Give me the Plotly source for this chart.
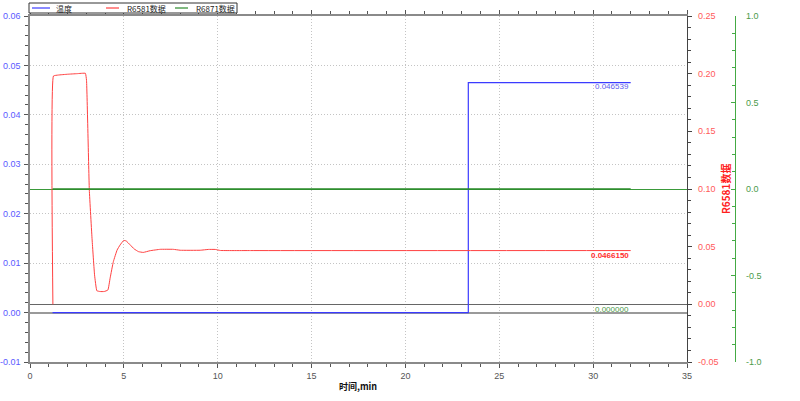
import plotly.graph_objects as go

# ---- data ----
temp_t = [1.2, 23.35, 32.0]
temp_v = [0.0, 0.046539, 0.046539]

r6581_t = [1.22, 1.25, 1.5, 2.0, 2.5, 2.95, 3.01, 3.16, 3.31, 3.44, 3.56, 3.73, 3.95, 4.15,
           4.27, 4.44, 4.64, 4.80, 4.99, 5.12, 5.34, 5.55, 5.78, 6.03, 6.40, 6.94, 7.63,
           8.0, 9.07, 9.5, 9.87, 10.14, 11.74, 32.0]
r6581_v = [0.0, 0.198, 0.1988, 0.1995, 0.2, 0.2003, 0.1945, 0.0991, 0.0558, 0.0254, 0.0118,
           0.0111, 0.0111, 0.0124, 0.0229, 0.037, 0.0471, 0.0515, 0.0554, 0.055, 0.0515,
           0.048, 0.0457, 0.045, 0.0465, 0.0477, 0.0477, 0.0469, 0.0469, 0.0476, 0.0476,
           0.0467, 0.046615, 0.046615]

r6871_t = [1.2, 32.0]
r6871_v = [0.0, 0.0]

temp_label = "0.046539"
r6581_label = "0.0466150"
r6871_label = "0.000000"

y1_ticks = [-0.01, 0.0, 0.01, 0.02, 0.03, 0.04, 0.05, 0.06]
y1_text = ["-0.01", "0.00", "0.01", "0.02", "0.03", "0.04", "0.05", "0.06"]
y2_ticks = [-0.05, 0.0, 0.05, 0.10, 0.15, 0.20, 0.25]
y2_text = ["-0.05", "0.00", "0.05", "0.10", "0.15", "0.20", "0.25"]
y3_ticks = [-1.0, -0.5, 0.0, 0.5, 1.0]
y3_text = ["-1.0", "-0.5", "0.0", "0.5", "1.0"]

FONT = "Liberation Sans, Arial, Noto Sans CJK SC"
CJK = "Noto Sans CJK SC, Liberation Sans"

W, H = 800, 401
L, R, T, B = 30, 65, 16, 39
PW = W - L - R
PH = H - T - B


def px(x):
    return (x - L) / PW


def py(y):
    return (H - B - y) / PH


fig = go.Figure()
fig.add_trace(go.Scatter(x=temp_t, y=temp_v, mode="lines", line=dict(color="#3b3bff", width=1.2, shape="hv"),
                         yaxis="y", name="温度", showlegend=False))
fig.add_trace(go.Scatter(x=r6581_t, y=r6581_v, mode="lines", line=dict(color="#ff4040", width=1, shape="spline", smoothing=0.3),
                         yaxis="y2", name="R6581数据", showlegend=False))
fig.add_trace(go.Scatter(x=r6871_t, y=r6871_v, mode="lines", line=dict(color="#2a8a2a", width=1.6),
                         yaxis="y3", name="R6871数据", showlegend=False))

tickfont = dict(family=FONT, size=9)
GRID = dict(showgrid=True, gridcolor="#c4c4c4", griddash="1px,2px", gridwidth=1)

fig.update_layout(
    width=W, height=H,
    margin=dict(l=L, r=R, t=T, b=B, pad=0, autoexpand=False),
    paper_bgcolor="white", plot_bgcolor="white",
    font=dict(family=FONT, size=9),
    xaxis=dict(domain=[0, 657 / PW], range=[0, 35], dtick=5, tick0=0, automargin=False, **GRID,
               zeroline=False, showline=True, linecolor="#8a8a8a", linewidth=1.5,
               mirror="ticks", ticks="outside", ticklen=4, tickcolor="#555",
               tickfont=dict(color="#555", **tickfont),
               minor=dict(dtick=1, ticks="outside", ticklen=3, tickcolor="#555", showgrid=False)),
    yaxis=dict(range=[-0.01, 0.06], tickvals=y1_ticks, ticktext=y1_text, automargin=False, **GRID,
               zeroline=True, zerolinecolor="#9a9a9a", zerolinewidth=2,
               showline=True, linecolor="#8a8a8a", linewidth=1.5,
               ticks="outside", ticklen=4, tickcolor="#555", ticklabelstandoff=2,
               tickfont=dict(color="#5a5aff", **tickfont),
               minor=dict(dtick=0.002, ticks="outside", ticklen=3, tickcolor="#555", showgrid=False)),
    yaxis2=dict(range=[-0.05, 0.25], tickvals=y2_ticks, ticktext=y2_text, overlaying="y", side="right",
                anchor="x", showgrid=False, automargin=False,
                zeroline=True, zerolinecolor="#666", zerolinewidth=1.2,
                showline=True, linecolor="#444", linewidth=1.2,
                ticks="outside", ticklen=4, tickcolor="#444", ticklabelstandoff=4,
                tickfont=dict(color="#ff5a5a", **tickfont),
                minor=dict(dtick=0.01, ticks="outside", ticklen=3, tickcolor="#444", showgrid=False)),
    yaxis3=dict(range=[-1, 1], tickvals=y3_ticks, ticktext=y3_text, overlaying="y", side="right",
                anchor="free", position=1.0, showgrid=False, automargin=False,
                zeroline=True, zerolinecolor="#3a9a3a", zerolinewidth=1,
                showline=True, linecolor="#44aa44", linewidth=1.2,
                ticks="inside", ticklen=4, tickcolor="#44aa44", ticklabelstandoff=8,
                tickfont=dict(color="#4a9a4a", **tickfont),
                minor=dict(dtick=0.1, ticks="inside", ticklen=3, tickcolor="#44aa44", showgrid=False)),
)

# value labels at series ends
fig.add_annotation(x=temp_t[-1], y=temp_v[-1], xref="x", yref="y", text=temp_label, showarrow=False,
                   xanchor="right", yanchor="middle", yshift=-4, font=dict(family=FONT, size=8, color="#5a5aee"))
fig.add_annotation(x=r6581_t[-1], y=r6581_v[-1], xref="x", yref="y2", text="<b>" + r6581_label + "</b>", showarrow=False,
                   xanchor="right", yanchor="middle", yshift=-5, font=dict(family=FONT, size=8, color="#ff3030"))
fig.add_annotation(x=r6871_t[-1], y=0, xref="x", yref="y", text=r6871_label, showarrow=False,
                   xanchor="right", yanchor="middle", yshift=3, font=dict(family=FONT, size=8, color="#4a9a4a"))

# axis titles
fig.add_annotation(x=px(725), y=py(189), xref="paper", yref="paper", text="<b>R6581数据</b>", showarrow=False,
                   textangle=-90, xanchor="center", yanchor="middle", font=dict(family=CJK, size=10, color="#ff2020"))
fig.add_annotation(x=px(358), y=py(386), xref="paper", yref="paper", text="<b>时间,min</b>", showarrow=False,
                   xanchor="center", yanchor="middle", font=dict(family=CJK, size=9, color="#111"))

# legend box
fig.add_shape(type="rect", xref="paper", yref="paper", x0=px(29), x1=px(237), y0=py(13), y1=py(3),
              line=dict(color="#333", width=1), fillcolor="white", layer="above")
legend_items = [("温度", "#3b3bff", 32, 50, 54), ("R6581数据", "#ff4040", 106, 119, 125), ("R6871数据", "#2a8a2a", 175, 188, 194)]
for name, col, a, b, tx in legend_items:
    fig.add_shape(type="line", xref="paper", yref="paper", x0=px(a), x1=px(b), y0=py(8), y1=py(8),
                  line=dict(color=col, width=1.2), layer="above")
    fig.add_annotation(x=px(tx), y=py(8), xref="paper", yref="paper", text=name, showarrow=False,
                       xanchor="left", yanchor="middle", font=dict(family=CJK, size=8, color="#222"))

fig.write_html("out.html", config={"displayModeBar": False},
               post_script="document.body.style.margin='0px';document.body.style.overflow='hidden';")
